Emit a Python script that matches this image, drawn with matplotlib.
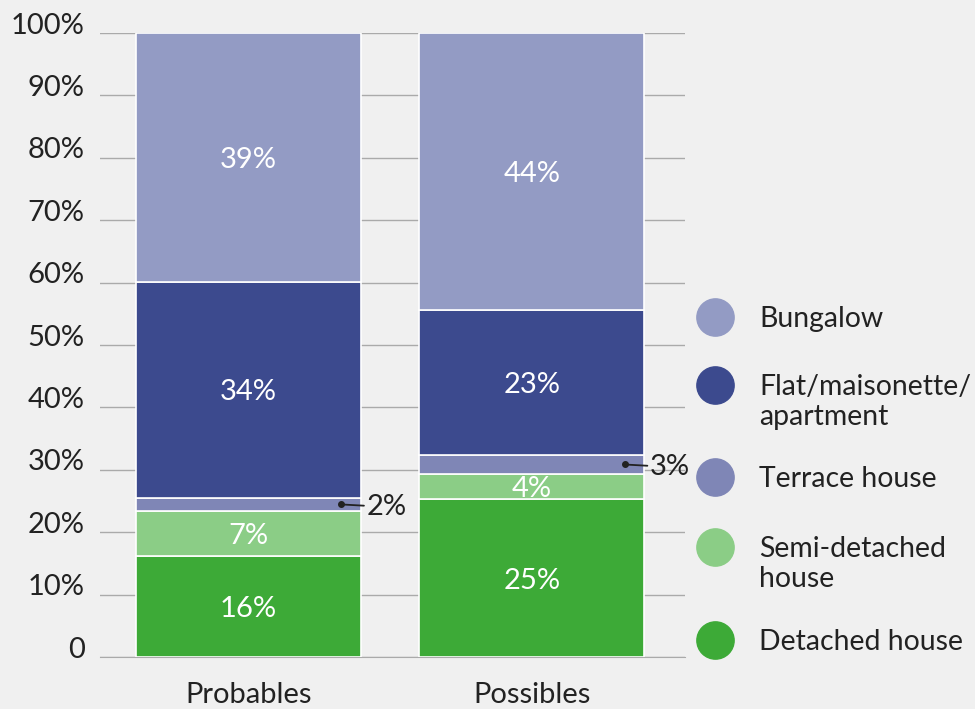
import matplotlib.pyplot as plt
import matplotlib.transforms as mtransforms

plt.rcParams['font.family'] = ['Lato', 'DejaVu Sans']

# data (share of each house type, %)
groups = ['Probables', 'Possibles']
types = ['Detached house', 'Semi-detached\nhouse', 'Terrace house',
         'Flat/maisonette/\napartment', 'Bungalow']
detached = [16.2, 25.3]
semi = [7.2, 4.0]
terrace = [2.1, 3.1]
flat = [34.6, 23.2]
bungalow = [39.9, 44.4]
labels_detached = ['16%', '25%']
labels_semi = ['7%', '4%']
labels_terrace = ['2%', '3%']
labels_flat = ['34%', '23%']
labels_bungalow = ['39%', '44%']

colors = ['#3daa37', '#8bcd86', '#7f86b6', '#3c4a8e', '#939bc4']
bg = '#f0f0f0'
FS = 21

series = [detached, semi, terrace, flat, bungalow]
seg_labels = [labels_detached, labels_semi, labels_terrace, labels_flat, labels_bungalow]

fig = plt.figure(figsize=(9.75, 7.09), dpi=100, facecolor=bg)
ax = fig.add_axes([100/975, 1 - 657/709, 585/975, 624/709])
ax.set_facecolor(bg)

x = [0, 1]
width = 0.794
bottom = [0.0, 0.0]
for vals, labs, col in zip(series, seg_labels, colors):
    ax.bar(x, vals, width, bottom=bottom, color=col, edgecolor='white',
           linewidth=1.2, zorder=3)
    for i in range(2):
        mid = bottom[i] + vals[i] / 2
        if vals is terrace:
            # small segment: label outside with a leader line
            xr = x[i] + width / 2
            ax.annotate(labs[i], xy=(xr - 0.07, mid), xytext=(xr + 0.02, mid),
                        fontsize=FS, color='#222222', va='center_baseline', ha='left',
                        arrowprops=dict(arrowstyle='-', color='#222222', lw=1.3,
                                        shrinkA=0, shrinkB=0),
                        annotation_clip=False, zorder=5)
            ax.plot(xr - 0.07, mid, 'o', color='#222222', ms=4, zorder=5, clip_on=False)
        else:
            ax.text(x[i], mid, labs[i], ha='center', va='center_baseline', color='white',
                    fontsize=FS, zorder=4)
    bottom = [b + v for b, v in zip(bottom, vals)]

ax.set_xlim(-0.524, 1.54)
ax.set_ylim(0, 100)
ax.set_yticks(range(0, 101, 10))
ax.set_yticklabels(['0'] + [f'{t}%' for t in range(10, 101, 10)])
ax.set_xticks(x)
ax.set_xticklabels(groups)
ax.tick_params(axis='both', length=0, labelsize=FS, colors='#222222')
ax.tick_params(axis='y', pad=11)
ax.tick_params(axis='x', pad=18)
# y labels sit a little above their gridlines
shift = mtransforms.ScaledTranslation(0, 10/100, fig.dpi_scale_trans)
for lab in ax.get_yticklabels():
    lab.set_transform(lab.get_transform() + shift)
ax.grid(axis='y', color='#aaaaaa', lw=1, zorder=0)
for s in ['top', 'right', 'left']:
    ax.spines[s].set_visible(False)
ax.spines['bottom'].set_color('#aaaaaa')

# legend drawn by hand
leg_y = [640, 547, 477, 385, 317]
for lab, col, yy in zip(types, colors, leg_y):
    yf = 1 - yy / 709
    ax.scatter([715 / 975], [yf], s=720, color=col, transform=fig.transFigure,
               clip_on=False, zorder=5)
    fig.text(759 / 975, yf + 11 / 709, lab, ha='left', va='top', fontsize=20.4,
             color='#222222', linespacing=1.18)

fig.savefig('out.png', dpi=100, facecolor=bg)
